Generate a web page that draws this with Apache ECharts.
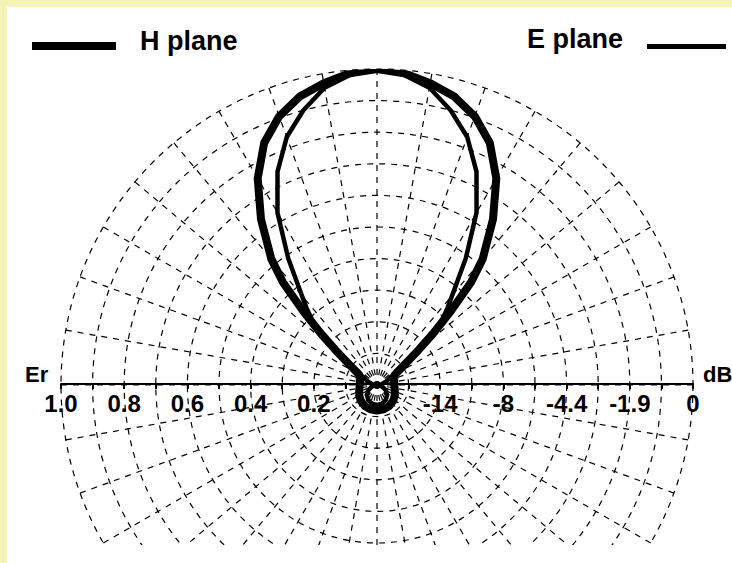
<!DOCTYPE html>
<html>
<head>
<meta charset="utf-8">
<script src="https://cdn.jsdelivr.net/npm/echarts@6/dist/echarts.min.js"></script>
<style>
  html, body { margin: 0; padding: 0; background: #ffffff; }
  #page { position: relative; width: 732px; height: 563px; overflow: hidden; background: #ffffff; }
  .rim { position: absolute; background: #f6f3b9; }
  #chart { position: absolute; left: 0; top: 0; width: 732px; height: 545px; }
</style>
</head>
<body>
<div id="page">
  <div class="rim" style="left:0;top:0;width:7px;height:563px"></div>
  <div class="rim" style="left:0;top:0;width:732px;height:7px"></div>
  <div id="chart"></div>
</div>
<script>
// Radiation pattern, relative field strength Er versus angle from boresight (deg, clockwise from top)
const angles = [0, 5, 10, 15, 20, 25, 30, 35, 40, 42.5, 45, 47.5, 50, 55, 60, 70, 80, 90,
  105, 120, 135, 150, 165, 180, 195, 210, 225, 240, 255,
  270, 280, 290, 300, 305, 310, 312.5, 315, 317.5, 320, 325, 330, 335, 340, 345, 350, 355, 360];

const hPlane = [1.00, 0.99, 0.97, 0.945, 0.905, 0.845, 0.755, 0.64, 0.52, 0.44, 0.33, 0.24, 0.17, 0.095, 0.065, 0.058, 0.055, 0.055,
  0.058, 0.065, 0.072, 0.077, 0.080, 0.081, 0.080, 0.077, 0.072, 0.065, 0.058,
  0.055, 0.055, 0.058, 0.065, 0.095, 0.17, 0.24, 0.33, 0.44, 0.52, 0.64, 0.755, 0.845, 0.905, 0.945, 0.97, 0.99, 1.00];

const ePlane = [1.00, 0.985, 0.955, 0.90, 0.835, 0.745, 0.63, 0.49, 0.37, 0.33, 0.29, 0.22, 0.16, 0.09, 0.05, 0.03, 0.015, 0.0,
  0.016, 0.032, 0.045, 0.055, 0.061, 0.063, 0.061, 0.055, 0.045, 0.032, 0.016,
  0.0, 0.015, 0.03, 0.05, 0.09, 0.16, 0.22, 0.29, 0.33, 0.37, 0.49, 0.63, 0.745, 0.835, 0.90, 0.955, 0.985, 1.00];

// Horizontal scale: linear Er on the left half, the same radii in dB on the right half
const erTicks = ['1.0', '0.8', '0.6', '0.4', '0.2'];
const dbTicks = ['-14', '-8', '-4.4', '-1.9', '0'];

const seriesNames = ['H plane', 'E plane'];

const nameFont = 'bold 22px "Liberation Sans", Arial, sans-serif';
const legendFont = 'bold 27px "Liberation Sans", Arial, sans-serif';

function toPolar(values) {
  return values.map((r, i) => [r, angles[i]]);
}

const dash = { color: '#000', width: 1.2, type: [6, 6] };

const chart = echarts.init(document.getElementById('chart'), null, { renderer: 'svg' });

chart.setOption({
  animation: false,
  backgroundColor: 'transparent',
  polar: { center: [377, 385], radius: 316 },
  angleAxis: {
    type: 'value', min: 0, max: 360, interval: 10,
    startAngle: 90, clockwise: true,
    axisLine: { show: false }, axisTick: { show: false }, axisLabel: { show: false },
    splitLine: { show: true, lineStyle: dash }
  },
  radiusAxis: {
    type: 'value', min: 0, max: 1, interval: 0.1,
    axisLine: { show: false }, axisTick: { show: false }, axisLabel: { show: false },
    splitLine: { show: true, lineStyle: dash }
  },
  grid: { left: 61, right: 39, top: 0, bottom: 161 },
  xAxis: {
    type: 'value', min: -1, max: 1, interval: 0.1, position: 'bottom', z: 10,
    axisLine: { show: true, onZero: false, lineStyle: { color: '#000', width: 2 } },
    axisTick: { show: true, length: 5, lineStyle: { color: '#000', width: 2 } },
    splitLine: { show: false },
    axisLabel: {
      show: true, margin: 7, color: '#000',
      fontFamily: '"Liberation Sans", Arial, sans-serif', fontWeight: 'bold', fontSize: 24,
      showMinLabel: true, showMaxLabel: true,
      formatter: function (v) {
        const k = Math.round(v * 10);
        if (k % 2 !== 0 || k === 0) return '';
        return k < 0 ? erTicks[(k + 10) / 2] : dbTicks[k / 2 - 1];
      }
    }
  },
  yAxis: { type: 'value', show: false, min: 0, max: 1 },
  graphic: [
    { type: 'text', left: 25, top: 363, style: { text: 'Er', font: nameFont, fill: '#000' } },
    { type: 'text', left: 703, top: 363, style: { text: 'dB', font: nameFont, fill: '#000' } },
    { type: 'rect', shape: { x: 32, y: 42, width: 84, height: 8 }, style: { fill: '#000' } },
    { type: 'text', left: 140, top: 27, style: { text: seriesNames[0], font: legendFont, fill: '#000' } },
    { type: 'text', right: 109, top: 25, style: { text: seriesNames[1], font: legendFont, fill: '#000' } },
    { type: 'rect', shape: { x: 647, y: 44, width: 79, height: 5 }, style: { fill: '#000' } }
  ],
  series: [
    {
      name: seriesNames[0], type: 'line', coordinateSystem: 'polar', z: 5,
      symbol: 'none', smooth: false, clip: false,
      lineStyle: { color: '#000', width: 8, join: 'round', cap: 'round' },
      data: toPolar(hPlane)
    },
    {
      name: seriesNames[1], type: 'line', coordinateSystem: 'polar', z: 6,
      symbol: 'none', smooth: false, clip: false,
      lineStyle: { color: '#000', width: 4.5, join: 'round', cap: 'round' },
      data: toPolar(ePlane)
    }
  ]
});
</script>
</body>
</html>
